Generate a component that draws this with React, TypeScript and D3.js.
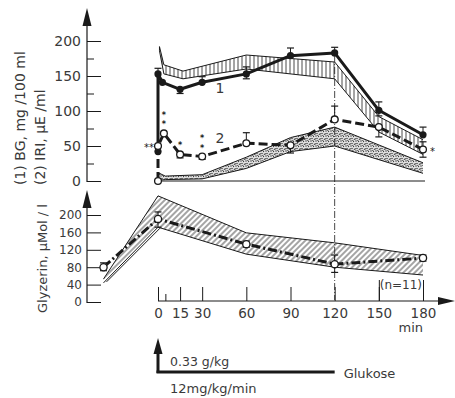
import { useEffect, useRef } from "react";
import * as d3 from "d3";

// time points (min) and values
const bgTime = [0, 0, 3, 15, 30, 60, 90, 120, 150, 180];
const bgValue = [42, 153, 141, 131, 141, 153, 179, 183, 101, 66];
const bgErrHi = [null, 161, null, null, 149, 163, 190, 191, 113, 77];
const bgErrLo = [null, null, null, 125, null, 146, null, null, 93, null];

const iriTime = [0, 0, 4, 15, 30, 60, 90, 120, 150, 180];
const iriValue = [0, 50, 68, 38, 35, 54, 51, 88, 77, 45];
const iriErrHi = [null, null, null, null, null, 69, null, 107, null, 56];
const iriErrLo = [null, null, null, 33, 31, null, 40, null, 63, 34];
const iriStars = ["", "**", "**", "*", "**", "", "", "", "", "*"];

const glyTime = [-37, 0, 60, 120, 180];
const glyValue = [80, 191, 133, 87, 101];
const glyErrHi = [90, 207, 140, 108, 108];
const glyErrLo = [72, 172, 126, 68, 94];

// normal ranges (shaded bands)
const bgBandTime = [1, 4, 17, 60, 120, 150, 180];
const bgBandLo = [186, 153, 146, 160, 146, 70, 38];
const bgBandHi = [192, 166, 157, 180, 170, 92, 59];

const iriBandTime = [0, 5, 30, 60, 90, 120, 180];
const iriBandLo = [1, 2, 3, 18, 42, 50, 11];
const iriBandHi = [12, 7, 9, 34, 62, 77, 26];

const glyBandTime = [-37, 0, 60, 120, 180];
const glyBandLo = [44, 172, 110, 80, 62];
const glyBandHi = [53, 244, 159, 136, 107];

const topTicks = [0, 50, 100, 150, 200];
const topMinor = [25, 75, 125, 175];
const bottomTicks = [0, 40, 80, 120, 160, 200];
const timeTicks = [0, 15, 30, 60, 90, 120, 150, 180];

const FONT = "DejaVu Sans";
const INK = "#1a1a1a";
const TXT = "#3a3a3a";

export default function App() {
    const svgRef = useRef<SVGSVGElement | null>(null);

    useEffect(() => {
        if (!svgRef.current) return;
        const root = d3.select(svgRef.current);
        root.selectAll("*").remove();

        const x = d3.scaleLinear().domain([0, 180]).range([158, 423]);
        const yTop = d3.scaleLinear().domain([0, 200]).range([181, 41]);
        const yBot = d3.scaleLinear().domain([0, 200]).range([302, 215]);

        // patterns
        const defs = root.append("defs");
        const vh = defs.append("pattern").attr("id", "vhatch")
            .attr("patternUnits", "userSpaceOnUse").attr("width", 4).attr("height", 4);
        vh.append("line").attr("x1", 2).attr("x2", 2).attr("y1", 0).attr("y2", 4)
            .attr("stroke", INK).attr("stroke-width", 0.8);

        const dh = defs.append("pattern").attr("id", "dhatch")
            .attr("patternUnits", "userSpaceOnUse").attr("width", 4).attr("height", 4)
            .attr("patternTransform", "rotate(45)");
        dh.append("line").attr("x1", 2).attr("x2", 2).attr("y1", 0).attr("y2", 4)
            .attr("stroke", INK).attr("stroke-width", 0.8);

        const st = defs.append("pattern").attr("id", "stipple")
            .attr("patternUnits", "userSpaceOnUse").attr("width", 5).attr("height", 5);
        st.append("rect").attr("width", 5).attr("height", 5).attr("fill", "#e6e6e6");
        [[1, 1], [3.6, 1.6], [2, 3.5], [4.4, 4.2], [0.3, 3.8], [2.8, 0.2]].forEach(([cx, cy]) => {
            st.append("circle").attr("cx", cx).attr("cy", cy).attr("r", 0.65).attr("fill", "#222");
        });

        const svg = root.append("g");

        // bands
        const drawBand = (ts: number[], lo: number[], hi: number[], y: any, fill: string) => {
            const rows = ts.map((t, i) => ({ t, lo: lo[i], hi: hi[i] }));
            svg.append("path").datum(rows)
                .attr("d", d3.area<any>().x((d) => x(d.t)).y0((d) => y(d.lo)).y1((d) => y(d.hi)))
                .attr("fill", fill);
            ["lo", "hi"].forEach((k) => {
                svg.append("path").datum(rows)
                    .attr("d", d3.line<any>().x((d) => x(d.t)).y((d) => y(d[k])))
                    .attr("fill", "none").attr("stroke", INK).attr("stroke-width", 1);
            });
            return rows;
        };
        const bgRows = drawBand(bgBandTime, bgBandLo, bgBandHi, yTop, "url(#vhatch)");
        // close the tip of the BG band
        svg.append("line")
            .attr("x1", x(bgRows[0].t)).attr("x2", x(bgRows[0].t))
            .attr("y1", yTop(bgRows[0].lo)).attr("y2", yTop(bgRows[0].hi))
            .attr("stroke", INK);
        drawBand(iriBandTime, iriBandLo, iriBandHi, yTop, "url(#stipple)");
        const glyRows = drawBand(glyBandTime, glyBandLo, glyBandHi, yBot, "url(#dhatch)");
        // double line on the lower left edge of the glycerol band
        svg.append("line")
            .attr("x1", x(glyRows[0].t) + 3).attr("y1", yBot(glyRows[0].lo) - 1)
            .attr("x2", x(glyRows[1].t) + 2).attr("y2", yBot(glyRows[1].lo) + 1)
            .attr("stroke", INK).attr("stroke-width", 1);

        // top panel baseline
        svg.append("line").attr("x1", x(0)).attr("x2", x(180) + 2)
            .attr("y1", yTop(0)).attr("y2", yTop(0)).attr("stroke", INK).attr("stroke-width", 1);

        // 120 min dash-dot marker
        svg.append("line").attr("x1", x(120)).attr("x2", x(120))
            .attr("y1", 55).attr("y2", 300)
            .attr("stroke", INK).attr("stroke-width", 0.8).attr("stroke-dasharray", "7,2,1,2");

        // y axes
        const axisStyle = (g: any, size: number) => {
            g.select(".domain").remove();
            g.selectAll("line").attr("stroke", INK).attr("stroke-width", 1);
            g.selectAll("text").attr("font-family", FONT).attr("font-size", size).attr("fill", TXT);
        };
        svg.append("g").attr("transform", "translate(87,0)")
            .call(d3.axisLeft(yTop).tickValues(topTicks).tickSize(-14).tickPadding(6))
            .call((g: any) => axisStyle(g, 14));
        svg.append("g").attr("transform", "translate(87,0)")
            .call(d3.axisLeft(yTop).tickValues(topMinor).tickSize(-7).tickFormat(() => ""))
            .call((g: any) => axisStyle(g, 14));
        svg.append("g").attr("transform", "translate(87,0)")
            .call(d3.axisLeft(yBot).tickValues(bottomTicks).tickSize(-14).tickPadding(5))
            .call((g: any) => axisStyle(g, 12));

        const arrowUp = (cx: number, tip: number) => {
            svg.append("path")
                .attr("d", `M${cx},${tip} L${cx - 4.5},${tip + 18} L${cx + 4.5},${tip + 18} Z`)
                .attr("fill", INK);
        };
        svg.append("line").attr("x1", 87).attr("x2", 87).attr("y1", 24).attr("y2", yTop(0) + 1)
            .attr("stroke", INK).attr("stroke-width", 1.2);
        arrowUp(87, 8);
        svg.append("line").attr("x1", 87).attr("x2", 87).attr("y1", 206).attr("y2", yBot(0) + 1)
            .attr("stroke", INK).attr("stroke-width", 1.2);
        arrowUp(87, 190);

        // time axis
        const xAxisY = 301;
        const xa = svg.append("g").attr("transform", `translate(0,${xAxisY})`)
            .call(d3.axisBottom(x).tickValues(timeTicks).tickSize(-14).tickPadding(7));
        axisStyle(xa, 13.5);
        svg.append("g").attr("transform", `translate(0,${xAxisY})`)
            .call(d3.axisBottom(x).tickValues([5]).tickSize(-7).tickFormat(() => ""))
            .call((g: any) => axisStyle(g, 12));
        svg.append("g").attr("transform", `translate(0,${xAxisY})`)
            .call(d3.axisBottom(x).tickValues([150, 180]).tickSize(-21).tickFormat(() => ""))
            .call((g: any) => axisStyle(g, 12));
        svg.append("line").attr("x1", x(0)).attr("x2", 440).attr("y1", xAxisY).attr("y2", xAxisY)
            .attr("stroke", INK).attr("stroke-width", 1.2);
        svg.append("path").attr("d", `M455,${xAxisY} L438,${xAxisY - 4} L438,${xAxisY + 4} Z`).attr("fill", INK);

        // series
        const series = (ts: number[], vs: number[], y: any, dash: string | null) => {
            const rows = ts.map((t, i) => ({ t, v: vs[i] }));
            const p = svg.append("path").datum(rows)
                .attr("d", d3.line<any>().x((d) => x(d.t)).y((d) => y(d.v)))
                .attr("fill", "none").attr("stroke", INK).attr("stroke-width", 3)
                .attr("stroke-linejoin", "round");
            if (dash) p.attr("stroke-dasharray", dash);
        };
        const errorBars = (ts: number[], vs: number[], hi: (number | null)[], lo: (number | null)[], y: any) => {
            ts.forEach((t, i) => {
                [hi[i], lo[i]].forEach((e) => {
                    if (e == null) return;
                    svg.append("line").attr("x1", x(t)).attr("x2", x(t))
                        .attr("y1", y(vs[i])).attr("y2", y(e)).attr("stroke", INK).attr("stroke-width", 1);
                    svg.append("line").attr("x1", x(t) - 3.5).attr("x2", x(t) + 3.5)
                        .attr("y1", y(e)).attr("y2", y(e)).attr("stroke", INK).attr("stroke-width", 1.2);
                });
            });
        };

        errorBars(bgTime, bgValue, bgErrHi, bgErrLo, yTop);
        errorBars(iriTime, iriValue, iriErrHi, iriErrLo, yTop);
        errorBars(glyTime, glyValue, glyErrHi, glyErrLo, yBot);

        series(bgTime, bgValue, yTop, null);
        series(iriTime, iriValue, yTop, "9,4");
        series(glyTime, glyValue, yBot, "9,3,2,3");

        svg.selectAll(".bgpt").data(bgTime.map((t, i) => ({ t, v: bgValue[i] })))
            .enter().append("circle")
            .attr("cx", (d) => x(d.t)).attr("cy", (d) => yTop(d.v)).attr("r", 3.6)
            .attr("fill", INK);
        svg.selectAll(".iript").data(iriTime.map((t, i) => ({ t, v: iriValue[i] })))
            .enter().append("circle")
            .attr("cx", (d) => x(d.t)).attr("cy", (d) => yTop(d.v)).attr("r", 3.4)
            .attr("fill", "#fff").attr("stroke", INK).attr("stroke-width", 1.3);
        svg.selectAll(".glypt").data(glyTime.map((t, i) => ({ t, v: glyValue[i] })))
            .enter().append("circle")
            .attr("cx", (d) => x(d.t)).attr("cy", (d) => yBot(d.v)).attr("r", 3.6)
            .attr("fill", "#fff").attr("stroke", INK).attr("stroke-width", 1.3);

        // significance stars
        iriTime.forEach((t, i) => {
            const s = iriStars[i];
            if (!s) return;
            const cx = x(t), cy = yTop(iriValue[i]);
            if (i === 1) {
                // side-by-side, to the left of the point
                svg.append("text").attr("font-family", FONT).attr("font-size", 10).attr("fill", INK)
                    .attr("x", cx - 4).attr("y", cy + 5).attr("text-anchor", "end").text(s);
            } else if (i === 9) {
                svg.append("text").attr("font-family", FONT).attr("font-size", 10).attr("fill", INK)
                    .attr("x", cx + 7).attr("y", cy + 5).text(s);
            } else {
                // stacked above the point
                s.split("").forEach((c, k) => {
                    svg.append("text").attr("font-family", FONT).attr("font-size", 8)
                        .attr("font-weight", "bold")
                        .attr("fill", INK).attr("text-anchor", "middle")
                        .attr("x", cx).attr("y", cy - 6 - k * 9.6).text(c);
                });
            }
        });

        // curve numbers
        const txt = (tx: number, ty: number, s: string, size: number, anchor = "start") =>
            svg.append("text").attr("x", tx).attr("y", ty).text(s)
                .attr("font-family", FONT).attr("font-size", size).attr("fill", TXT)
                .attr("text-anchor", anchor);
        txt(220, 93, "1", 14, "middle");
        txt(220, 143, "2", 14, "middle");
        txt(x(180) - 1, 289, "(n=11)", 12, "end");
        txt(x(180), 332, "min", 13, "end");

        // rotated axis titles
        const vtxt = (tx: number, ty: number, s: string, size: number) =>
            svg.append("text").attr("transform", `translate(${tx},${ty}) rotate(-90)`).text(s)
                .attr("font-family", FONT).attr("font-size", size).attr("fill", TXT);
        vtxt(25, 185, "(1) BG, mg /100 ml", 14);
        vtxt(45, 185, "(2) IRI, \u03bcE /ml", 14);
        vtxt(47, 313, "Glyzerin, \u03bcMol / l", 13);

        // glucose administration
        const gx = x(0);
        svg.append("path").attr("d", `M${gx},338 L${gx - 4.5},354 L${gx + 4.5},354 Z`).attr("fill", INK);
        svg.append("line").attr("x1", gx).attr("x2", gx).attr("y1", 352).attr("y2", 373)
            .attr("stroke", INK).attr("stroke-width", 3);
        svg.append("line").attr("x1", gx - 1.5).attr("x2", x(120)).attr("y1", 372).attr("y2", 372)
            .attr("stroke", INK).attr("stroke-width", 3);
        txt(170, 366, "0.33 g/kg", 12.5);
        txt(x(120) + 9, 378, "Glukose", 13);
        txt(170, 393, "12mg/kg/min", 13);
    }, []);

    return (
        <svg ref={svgRef} width={455} height={398}
            style={{ position: "absolute", left: 0, top: 0, background: "#fff" }} />
    );
}
